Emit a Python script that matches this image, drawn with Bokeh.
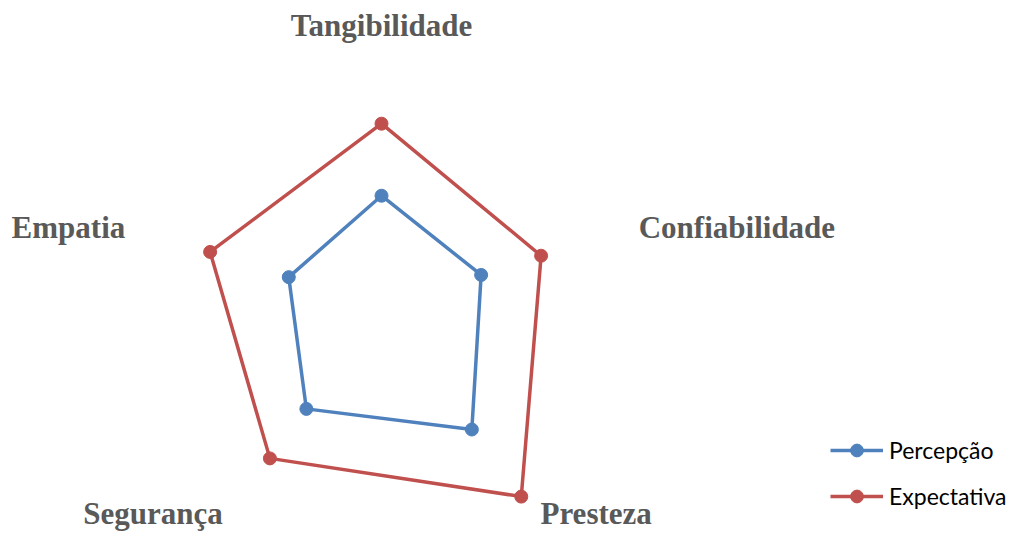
import math
from bokeh.plotting import figure
from bokeh.models import Range1d, Legend, LegendItem, ColumnDataSource
from bokeh.core.properties import value
from bokeh.embed import file_html
from bokeh.resources import INLINE

# ---- data ----
categories = ["Tangibilidade", "Confiabilidade", "Presteza", "Segurança", "Empatia"]
percepcao = [3.27, 3.04, 4.46, 3.71, 2.83]
expectativa = [5.39, 4.87, 6.90, 5.51, 5.23]
series_names = ["Percepção", "Expectativa"]

# ---- layout ----
W, H = 1018, 537
REF_W, REF_H = 1034, 553          # design space the layout is measured in
PX_PER_UNIT = 35.0
CX, CY = 387, 315.5               # centre of the radar in design space
BLUE = "#4F81BD"
RED = "#C0504D"

# label anchor offsets (design px from centre, y up)
label_pos = [(0, 290), (361, 82), (218, -213), (-232, -213), (-318, 82)]

p = figure(width=W, height=H, output_backend="svg", toolbar_location=None,
           x_range=Range1d(-CX, REF_W - CX),
           y_range=Range1d(CY - REF_H, CY),
           min_border=0, outline_line_color=None)
p.axis.visible = False
p.grid.visible = False
p.background_fill_color = "white"
p.border_fill_color = "white"

n = len(categories)
angles = [math.radians(90 - i * 360.0 / n) for i in range(n)]


def polar(vals):
    xs = [v * PX_PER_UNIT * math.cos(a) for v, a in zip(vals, angles)]
    ys = [v * PX_PER_UNIT * math.sin(a) for v, a in zip(vals, angles)]
    return xs, ys


renderers = {}
for name, vals, col in [("Percepção", percepcao, BLUE), ("Expectativa", expectativa, RED)]:
    xs, ys = polar(vals)
    ln = p.line(xs + xs[:1], ys + ys[:1], line_color=col, line_width=3.5)
    sc = p.scatter(xs, ys, size=13, fill_color=col, line_color=col, marker="circle")
    renderers[name] = [ln, sc]

src = ColumnDataSource(dict(x=[lp[0] for lp in label_pos], y=[lp[1] for lp in label_pos],
                            t=categories))
p.text(x="x", y="y", text="t", source=src, text_font=value("Liberation Serif"),
       text_font_style="bold", text_font_size="31px", text_color="#595959",
       text_align="center", text_baseline="middle")

legend = Legend(items=[LegendItem(label=nm, renderers=renderers[nm]) for nm in series_names],
                location=(830, 25), orientation="vertical",
                glyph_width=53, glyph_height=32, spacing=14, label_standoff=6,
                padding=0, margin=0, border_line_color=None, background_fill_alpha=0,
                label_text_font="Lato", label_text_font_size="23px",
                label_text_color="#000000")
p.add_layout(legend, "center")

open("out.html", "w").write(file_html(p, INLINE))
